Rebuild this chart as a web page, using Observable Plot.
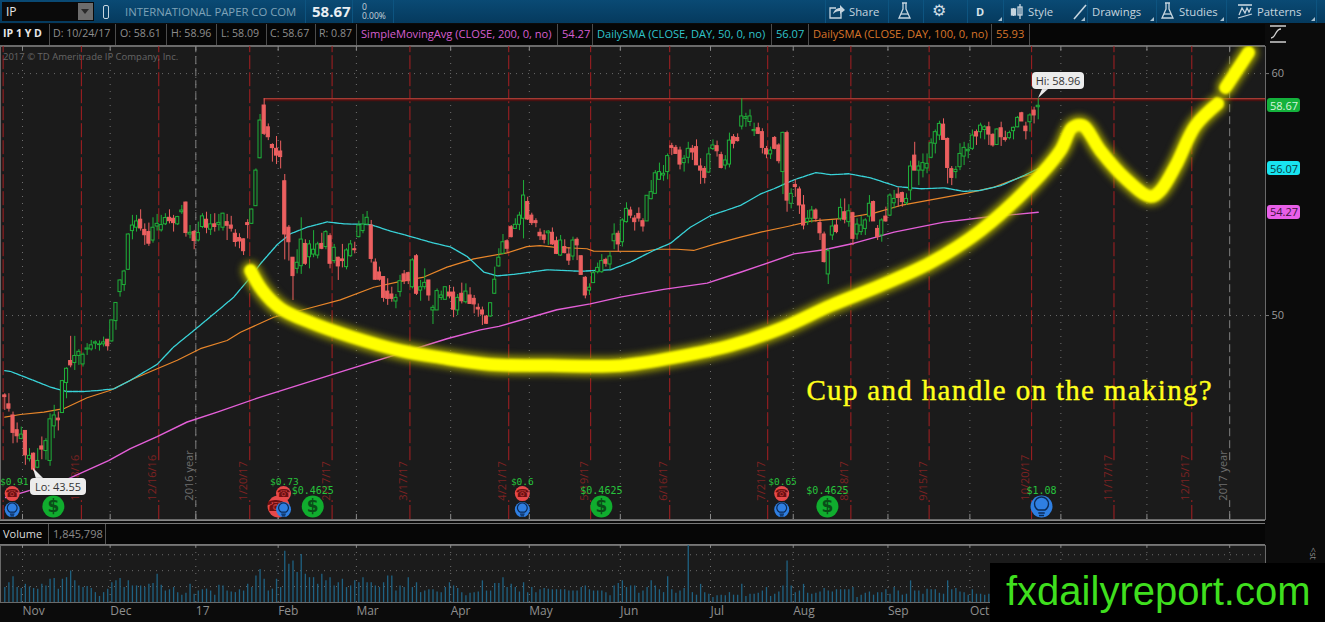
<!DOCTYPE html>
<html><head><meta charset="utf-8">
<style>
html,body{margin:0;padding:0;background:#0b0b0b;overflow:hidden}
#page{position:relative;width:1325px;height:622px;overflow:hidden;background:#0b0b0b;font-family:"Open Sans",sans-serif}
#page>svg{position:absolute;left:0;background:transparent;max-width:none}
.h{position:absolute;white-space:nowrap;line-height:1}
.b{position:absolute}
</style>
<script src="https://cdn.jsdelivr.net/npm/d3@7"></script>
<script src="https://cdn.jsdelivr.net/npm/@observablehq/plot@0.6"></script>
</head><body><div id="page"></div>
<script>
const opens=[46.70,46.33,45.87,45.26,44.90,45.23,44.06,44.29,43.71,44.59,
44.40,43.99,45.42,45.74,45.97,47.21,48.12,48.04,48.33,47.98,
48.59,48.60,48.84,48.78,48.81,49.00,48.93,49.77,50.97,51.26,
51.89,53.49,53.63,53.96,53.54,53.45,53.10,53.68,53.52,53.77,
54.04,54.00,53.77,54.27,54.67,53.35,53.45,53.10,53.66,53.96,
53.55,53.77,53.75,53.63,53.86,53.72,53.38,53.20,53.15,53.82,
53.79,54.52,56.50,58.68,57.78,57.05,56.89,56.78,55.55,53.63,
52.39,51.93,52.04,52.96,52.41,52.52,52.48,52.96,52.83,53.28,
52.25,52.39,52.32,52.00,52.45,52.74,53.24,53.49,53.76,53.72,
52.19,51.78,51.59,50.99,50.87,50.58,50.97,51.70,51.75,51.17,
52.45,51.03,51.17,51.45,50.21,50.21,50.73,50.65,50.95,50.95,
50.21,50.90,50.55,50.83,50.69,50.32,50.21,49.96,49.96,50.90,
52.03,52.55,53.07,53.65,53.58,53.75,54.00,54.69,54.13,53.90,
53.42,53.31,53.40,53.42,53.07,52.48,52.83,52.52,52.44,53.13,
52.45,51.56,51.03,51.34,51.79,51.79,52.30,52.11,53.07,53.38,
53.03,53.86,54.34,54.01,54.20,53.90,53.89,54.81,55.03,55.61,
55.79,55.93,57.00,56.93,56.82,56.30,56.52,56.89,56.96,56.16,
56.06,55.91,56.88,57.00,56.63,56.20,56.24,57.37,57.34,57.81,
58.13,58.00,57.62,57.74,57.58,56.88,56.66,57.34,57.03,55.93,
57.54,54.62,55.40,55.21,54.55,53.86,54.00,54.34,53.82,53.35,
51.70,53.31,53.72,54.00,54.27,53.86,54.23,53.35,53.45,53.58,
54.09,54.69,53.58,53.31,54.09,54.13,54.64,55.00,55.06,54.64,
55.17,56.61,55.99,55.99,56.08,56.52,57.10,57.44,57.89,57.30,
56.05,55.93,56.13,56.57,56.79,56.89,57.58,57.58,57.67,57.78,
57.47,57.05,57.74,57.33,57.33,57.62,57.78,58.36,57.81,57.99,58.47,58.61];
const closes=[46.63,46.15,45.15,45.01,45.08,44.22,44.20,43.63,43.99,44.46,
44.81,45.71,45.87,45.67,47.29,47.80,47.94,48.33,48.50,48.38,
48.64,48.77,48.89,48.81,48.89,48.73,49.80,50.52,51.45,51.82,
53.35,53.72,53.89,53.60,53.32,52.97,53.63,53.79,53.74,54.03,
53.90,53.82,54.07,54.34,53.41,53.42,53.08,53.41,54.10,53.63,
53.77,53.66,53.83,54.21,53.71,53.59,53.04,53.06,52.66,53.74,
54.38,55.99,58.06,57.51,57.37,56.92,56.61,56.55,53.35,53.03,
51.63,52.18,53.14,52.14,52.94,52.72,52.94,52.76,53.45,52.14,
52.80,52.03,52.25,52.69,52.94,52.70,53.72,53.76,54.04,52.34,
51.48,51.48,50.73,50.69,50.69,50.73,51.42,51.42,51.42,52.28,
50.90,51.17,51.35,50.83,50.32,51.01,50.83,51.17,50.79,50.24,
50.73,50.59,50.99,50.48,50.46,50.25,50.04,49.66,50.51,51.48,
52.39,53.03,52.76,53.24,53.75,54.13,54.96,53.97,53.82,53.82,
53.28,53.13,53.47,52.94,52.55,53.10,52.58,52.27,53.10,52.90,
51.68,50.83,51.15,51.75,51.97,52.25,52.14,52.44,53.35,52.94,
53.93,54.41,54.13,53.86,54.01,53.68,54.95,55.10,55.88,55.93,
55.86,56.59,56.93,56.68,56.24,56.48,56.89,56.74,56.21,55.99,
55.69,56.66,57.03,56.79,56.10,56.41,57.23,57.10,57.21,58.23,
58.20,58.23,57.67,57.51,56.93,56.66,56.82,56.89,56.38,57.55,
54.75,55.03,55.31,54.55,53.72,54.00,54.34,54.00,53.40,52.21,
52.66,53.68,53.45,54.45,53.96,54.31,53.17,53.76,53.72,53.93,
54.62,53.89,53.24,53.93,53.89,54.96,54.82,54.86,54.69,54.82,
56.16,55.99,56.16,56.30,56.27,57.12,57.58,57.92,57.26,56.10,
55.69,56.02,56.68,56.93,56.85,57.44,57.40,57.85,57.78,57.48,
57.03,57.69,57.37,57.26,57.54,57.76,58.17,58.02,57.62,58.27,58.27,58.67];
const highs=[46.77,46.77,46.01,45.56,45.39,45.23,44.50,44.32,44.50,44.98,
44.91,45.94,46.29,46.01,47.32,47.84,49.14,49.14,48.59,48.45,
48.84,48.97,48.95,48.95,49.11,49.01,49.80,50.52,51.48,51.87,
53.38,54.14,54.14,54.37,53.79,53.82,54.04,54.18,54.14,54.21,
54.37,54.14,54.10,54.55,54.69,53.72,53.52,53.86,54.21,54.27,
54.18,54.21,54.18,54.23,54.18,54.10,53.55,53.38,53.17,53.96,
54.41,56.06,58.31,58.96,57.92,57.10,57.40,57.21,55.83,53.72,
52.40,52.72,54.04,53.13,53.10,53.51,53.03,53.40,53.51,53.38,
52.94,52.41,52.94,52.76,53.10,53.03,53.90,54.18,54.30,53.93,
52.34,52.00,51.61,51.52,51.17,50.87,51.66,51.86,51.79,52.35,
52.52,51.45,51.93,51.45,50.42,51.10,51.01,51.17,51.24,51.17,
50.87,51.34,51.31,51.15,50.83,50.48,50.35,50.00,50.51,52.00,
52.76,53.35,53.13,53.72,54.00,54.27,55.58,54.89,54.23,54.00,
53.58,53.51,53.51,53.62,53.24,53.31,53.13,52.80,53.24,53.21,
52.47,51.61,51.31,51.83,52.17,52.52,52.37,52.62,53.79,53.49,
54.00,54.66,54.48,54.13,54.45,54.00,54.96,55.58,55.99,56.30,
56.20,56.68,57.12,57.03,56.96,56.61,57.16,57.03,57.26,56.48,
56.16,56.93,57.26,57.21,56.75,56.61,57.54,57.48,57.51,58.96,
58.36,58.50,57.95,57.95,57.72,56.99,56.96,57.40,57.10,57.58,
57.62,55.24,55.61,55.31,54.96,54.34,54.51,54.41,54.00,53.45,
52.76,53.93,53.96,54.82,54.82,54.58,54.27,54.00,54.09,54.00,
54.96,54.73,53.72,54.00,54.48,55.03,55.17,55.28,55.10,55.03,
56.38,57.16,56.38,56.68,56.68,57.30,57.67,58.03,58.13,57.34,
56.16,56.16,57.10,57.16,57.10,57.67,57.67,57.95,57.85,57.99,
57.51,57.72,57.99,57.62,57.62,57.79,58.23,58.40,57.99,58.34,58.61,58.96];
const lows=[46.08,46.01,44.70,44.73,44.87,43.81,43.95,43.55,43.67,44.04,
44.02,43.77,44.91,45.23,45.97,46.56,47.84,47.73,47.94,47.87,
48.35,48.53,48.59,48.53,48.70,48.53,48.90,49.39,50.76,51.00,
51.87,53.13,53.45,53.49,52.90,52.86,52.99,53.49,53.45,53.72,
53.79,53.45,53.72,54.18,53.24,53.17,52.72,53.04,53.59,53.38,
53.31,53.45,53.49,53.49,53.10,53.45,52.83,52.76,52.48,53.17,
53.77,54.51,56.48,57.44,57.23,56.34,56.24,56.06,52.30,52.25,
50.62,51.72,51.70,52.07,51.93,52.39,52.34,52.72,52.72,51.93,
52.14,51.45,51.97,51.89,52.41,52.55,53.21,53.38,53.72,52.17,
51.45,51.42,50.55,50.42,50.55,50.28,50.76,51.28,51.28,51.10,
50.83,50.59,51.06,50.59,49.63,50.21,50.62,50.65,50.69,49.91,
50.00,50.48,50.48,50.48,50.07,49.93,49.59,49.63,49.93,50.87,
52.00,52.55,52.58,53.21,53.58,53.51,53.17,53.93,53.72,53.63,
53.10,52.96,52.90,52.90,52.52,52.44,52.55,52.07,52.27,52.27,
51.68,50.69,50.83,51.34,51.72,51.75,52.00,51.90,52.72,52.62,
52.83,53.82,54.00,53.49,53.86,53.45,53.89,54.78,55.03,55.58,
55.55,55.61,56.61,56.66,56.02,55.93,56.27,56.41,56.20,55.42,
55.44,55.88,56.82,56.55,56.06,56.02,56.10,56.89,57.17,57.67,
57.78,57.81,57.40,57.48,56.68,56.48,56.45,56.85,56.27,55.00,
54.27,54.41,54.89,54.18,53.54,53.72,53.82,53.86,53.10,52.17,
51.28,53.10,53.38,53.90,53.79,53.65,52.89,53.13,53.31,53.31,
53.86,53.89,53.10,53.03,53.86,54.09,54.41,54.48,54.48,54.55,
54.75,55.99,55.37,55.69,55.86,56.48,56.68,57.23,57.26,55.44,
55.37,55.65,55.99,56.20,56.48,56.82,57.03,57.30,57.26,57.03,
56.96,57.03,56.99,57.17,57.26,57.26,57.76,58.02,57.26,57.58,57.92,58.09];
const volumes=[4.7,6.2,8.1,4.7,4.4,5.7,4.9,4.4,4.2,5.7,
5.2,7.3,7.5,4.2,7.3,7.8,9.9,6.8,5.2,4.7,
5.0,4.4,3.1,1.9,3.1,4.2,6.2,6.8,7.5,4.7,
6.8,5.2,5.2,5.2,4.7,5.7,6.0,8.9,5.4,3.6,
4.0,4.7,3.1,2.3,2.9,5.7,2.6,3.6,4.0,4.2,
3.6,2.3,5.4,5.2,3.6,3.3,3.1,4.0,3.6,5.7,
4.7,8.3,10.4,7.3,3.6,4.2,7.3,4.7,16.1,12.0,
13.0,9.4,15.1,8.9,7.8,7.8,5.7,8.9,6.8,7.8,
5.2,6.2,7.3,4.7,5.2,6.8,6.2,7.8,6.2,6.2,
5.2,4.7,6.2,8.3,8.3,3.6,5.2,4.7,7.8,4.7,
6.2,3.1,3.6,4.0,4.0,3.3,3.1,
4.7,6.2,5.2,4.4,3.1,2.1,2.9,3.1,3.3,6.8,
3.6,3.6,6.0,6.0,7.8,4.7,5.7,4.7,3.3,6.2,
3.1,4.7,3.1,4.0,4.4,4.2,4.0,4.0,4.0,4.0,
3.6,3.6,3.6,4.7,5.2,4.0,3.6,3.6,3.6,3.1,
2.1,5.2,6.0,6.8,4.7,5.2,5.2,2.9,3.6,4.7,
6.8,5.2,4.0,3.1,8.1,4.0,2.9,3.6,4.4,17.9,
3.1,2.3,5.7,3.1,2.6,1.6,2.1,2.3,2.1,3.1,
2.3,2.3,5.7,1.9,2.6,2.6,2.9,3.6,4.7,1.9,
2.6,3.3,5.2,13.0,5.2,3.1,3.6,5.7,2.9,2.6,
2.9,3.3,4.4,3.6,3.3,4.0,4.0,4.0,4.0,4.7,
1.6,2.3,2.9,3.3,2.3,3.1,
3.1,4.0,2.6,4.7,3.6,2.3,2.6,6.8,3.6,3.6,2.6,4.2,4.0,4.0,2.9,2.6,6.8,4.0,4.4,3.3,3.1,2.3,4.0,2.6,2.6,2.3,2.6,
3.1,2.9,3.1,2.6,2.9,3.1,2.6,2.9,3.1,3.3,3.6,1.85];

const sma50=[[0,47.72],[1.4,47.69],[3.8,47.53],[7,47.32],[11.1,47.04],[15.1,46.86],[19.2,46.86],[22.4,46.90],[26.5,46.97],[30.5,47.32],[33.8,47.66],[37,47.98],[41,48.70],[45.9,49.38],[50.8,50.07],[55.6,50.76],[59.7,51.59],[62.1,52.14],[66.2,52.94],[69.4,53.38],[73.4,53.65],[78.3,53.87],[82.4,53.79],[88.8,53.76],[93.7,53.49],[98.5,53.27],[103.4,53.03],[108.3,52.83],[112.3,52.44],[116.4,51.79],[119.6,51.64],[123.6,51.70],[131.7,51.89],[139.8,51.83],[147.1,51.89],[152,52.21],[157.6,52.69],[161.7,52.99],[166.5,53.65],[171.4,54.13],[178.7,54.55],[183.6,55.03],[186.8,55.24],[191.7,55.61],[197,55.91],[200.6,55.82],[205,55.86],[210.3,55.69],[216.8,55.33],[222.5,55.24],[228.1,55.28],[233,55.13],[237,55.17],[241.9,55.37],[247.6,55.79],[251,56.07]];
const sma100=[[0,45.80],[3.8,45.91],[9.5,46.01],[14.3,46.15],[20,46.60],[25.7,46.91],[31.3,47.39],[37,47.80],[41.9,48.15],[47.5,48.63],[54,48.97],[57.25,49.31],[65.3,49.93],[73.4,50.28],[81.5,50.65],[89.6,51.17],[95.3,51.38],[101.8,51.59],[107.4,52.0],[113.9,52.34],[122,52.59],[126.8,52.85],[130,52.89],[133.3,52.83],[141.4,52.76],[143,52.66],[155.2,52.65],[158.4,52.74],[163.3,52.74],[167.3,52.69],[172.2,52.94],[178.7,53.24],[183.6,53.45],[190.1,53.68],[195.7,53.90],[203.8,54.02],[211.1,54.23],[217.6,54.55],[224.9,54.78],[233.8,55.06],[240.3,55.31],[246.8,55.72],[251,55.93]];
const sma200=[[0.2,42.48],[4.5,42.69],[15.5,43.26],[25.2,44.0],[30.5,44.50],[37,45.0],[44.3,45.60],[51.6,46.01],[62.1,46.63],[81,47.64],[107.4,49.04],[115.5,49.41],[120,49.55],[134.1,50.24],[142.2,50.48],[149.5,50.76],[160,51.08],[170.6,51.34],[178.7,51.79],[183.6,52.07],[191.7,52.55],[199,52.72],[206.3,52.99],[216,53.45],[228.1,53.86],[238.7,54.07],[251,54.27]];
const cupStroke=[[59.7,51.86],[62.6,51.03],[67,50.29],[74.3,49.71],[84,49.13],[96.1,48.55],[105.8,48.26],[117.9,47.98],[132.5,47.93],[149.5,47.93],[164.1,48.31],[176.3,48.76],[188.4,49.46],[200.6,50.41],[212.7,51.24],[224.9,52.19],[237,53.51],[249.1,55.37],[256.4,56.82],[259.3,57.77],[261.8,57.85],[266.1,56.82],[272.2,55.66],[278.3,54.92],[280.7,55.17],[284.4,56.2],[289.2,57.85],[294.6,58.76]];
const handleStroke=[[296.5,59.42],[302.1,60.87]];

const monthTicks=[4.3,25.6,46.4,66.4,85.4,108.3,127.4,149.5,171.4,191.5,214.5,234.4];
const monthLabels=["Nov","Dec","17","Feb","Mar","Apr","May","Jun","Jul","Aug","Sep","Oct"];
const futureTicks=[256.5,277.4];
const expiryPos=[-0.4,18.6,37.4,59.5,79.5,98.4,122.4,142.3,161.5,185.3,205.5,224.5,249.4,269.4,288.3];
const expiryLabels=["","11/18/16","12/16/16","1/20/17","2/17/17","3/17/17","4/21/17","5/19/17","6/16/17","7/21/17","8/18/17","9/15/17","10/20/17","11/17/17","12/15/17"];
const yearPos=[46.4,297.5];
const yearLabels=["2016 year","2017 year"];
const phoneIdx=[1.8,67.7,125.7,188.7];
const bulbIdx=[1.8,67.7,125.7,188.7];
const dollarIdx=[11.8,74.8,144.9,199.8];
const bigPhoneIdx=[66.5];
const bigBulbIdx=[251.8];
const eventAmounts=[[2.3,"$0.91"],[67.9,"$0.73"],[125.7,"$0.6"],[188.9,"$0.65"]];
const dividendAmounts=[[74.8,"$0.4625"],[144.9,"$0.4625"],[199.8,"$0.4625"],[251.8,"$1.08"]];

const idx=d3.range(opens.length);
const GREEN="#1fb13a",RED="#ec6060";
const isUp=i=>closes[i]>=opens[i];
const xDomain=[-1.04,306.2];
const FONT='"Open Sans",sans-serif';
const w=0.38;
const bulb={draw(c,size){const r=Math.sqrt(size/Math.PI);
 c.moveTo(-r*0.35,r*0.35);c.arc(0,-r*0.25,r*0.7,Math.PI*0.75,Math.PI*0.25);c.lineTo(r*0.35,r*0.35);c.closePath();
 c.moveTo(-r*0.32,r*0.65);c.lineTo(r*0.32,r*0.65);c.moveTo(-r*0.25,r*0.9);c.lineTo(r*0.25,r*0.9);}};
const yAtRow={phone:42.64,bulb:41.98,coin:42.11,amt1:43.14,amt2:42.77};
const TOP=61.12,BOT=41.57,GAPT=44.0,GAPB=42.35;
const CUP="Cup and handle on the making?";
const allTicks=monthTicks.concat(futureTicks,[297.5]);

const main=Plot.plot({
 width:1325,height:520,marginLeft:0,marginRight:60,marginTop:46,marginBottom:1,
 style:{background:"transparent",fontFamily:FONT},
 x:{type:"linear",domain:xDomain,axis:null},
 y:{domain:[BOT,TOP],axis:null},
 marks:[
  Plot.frame({fill:"#1b1b1b",stroke:"#6a6a6a"}),
  Plot.ruleY([50,60],{stroke:"#6b6b6b",strokeDasharray:"1 5"}),
  Plot.axisY([50,60],{anchor:"right",tickSize:3,tickPadding:3,stroke:"#777",fill:"#9a9a9a",fontSize:11,label:null,tickFormat:d=>d}),
  Plot.ruleX(monthTicks.concat(futureTicks),{stroke:"#707070",strokeDasharray:"1 6",y1:BOT,y2:TOP}),
  Plot.ruleX(allTicks,{y1:BOT,y2:41.78,stroke:"#8a8a8a"}),
  Plot.ruleX(allTicks,{y1:60.92,y2:TOP,stroke:"#8a8a8a"}),
  Plot.ruleX(expiryPos,{y1:GAPT,y2:TOP,stroke:"#a81f22",strokeDasharray:"14 3"}),
  Plot.ruleX(expiryPos,{y1:BOT,y2:GAPB,stroke:"#a81f22",strokeDasharray:"14 3"}),
  Plot.text(expiryPos.map((p,i)=>[p,expiryLabels[i]]).filter(d=>d[1]),{x:"0",y:42.35,text:"1",rotate:-90,textAnchor:"start",dx:-6,fill:"#7d2222",fontSize:11}),
  Plot.ruleX(yearPos,{y1:GAPT,y2:TOP,stroke:"#808080",strokeDasharray:"8 4"}),
  Plot.ruleX(yearPos,{y1:BOT,y2:GAPB,stroke:"#808080",strokeDasharray:"8 4"}),
  Plot.text(yearPos.map((p,i)=>[p,yearLabels[i]]),{x:"0",y:42.35,text:"1",rotate:-90,textAnchor:"start",dx:-6,fill:"#6f6f6f",fontSize:11}),
  Plot.ruleY([58.96],{x1:63,x2:xDomain[1],stroke:"#4a1010",strokeWidth:3,dy:1}),
  Plot.ruleY([58.96],{x1:63,x2:xDomain[1],stroke:"#c9493f",strokeWidth:1}),
  Plot.line(sma200,{x:"0",y:"1",stroke:"#e45fd8",strokeWidth:1.4}),
  Plot.line(sma100,{x:"0",y:"1",stroke:"#e8862a",strokeWidth:1.2}),
  Plot.line(sma50,{x:"0",y:"1",stroke:"#39d3d8",strokeWidth:1.3,strokeDasharray:"5 1"}),
  Plot.ruleX(idx,{x:i=>i,y1:i=>lows[i],y2:i=>highs[i],stroke:i=>isUp(i)?GREEN:RED,strokeWidth:1}),
  Plot.rect(idx,{x1:i=>i-w,x2:i=>i+w,y1:i=>opens[i],y2:i=>closes[i],fill:i=>isUp(i)?"#1b1b1b":RED,stroke:i=>isUp(i)?GREEN:RED,strokeWidth:1}),
  Plot.line(cupStroke,{x:"0",y:"1",stroke:"#a8a800",strokeWidth:18,strokeLinecap:"round",strokeLinejoin:"round",curve:"catmull-rom",imageFilter:"blur(3.5px)"}),
  Plot.line(handleStroke,{x:"0",y:"1",stroke:"#a8a800",strokeWidth:18,strokeLinecap:"round",imageFilter:"blur(3.5px)"}),
  Plot.line(cupStroke,{x:"0",y:"1",stroke:"#ffff00",strokeWidth:12.5,strokeLinecap:"round",strokeLinejoin:"round",curve:"catmull-rom",imageFilter:"blur(1.2px)"}),
  Plot.line(handleStroke,{x:"0",y:"1",stroke:"#ffff00",strokeWidth:12.5,strokeLinecap:"round",imageFilter:"blur(1.2px)"}),
  Plot.text([CUP],{x:194.7,y:46.9,text:d=>d,textAnchor:"start",fill:"#ffff1a",fontFamily:'"Liberation Serif",serif',fontSize:29,stroke:"#ffff1a",strokeWidth:0.4}),
  // earnings & dividend markers
  Plot.text(eventAmounts,{x:"0",y:yAtRow.amt1,text:"1",fill:"#27c43c",fontFamily:'"DejaVu Sans Mono",monospace',fontSize:9.5}),
  Plot.text(dividendAmounts,{x:"0",y:yAtRow.amt2,text:"1",fill:"#27c43c",fontFamily:'"DejaVu Sans Mono",monospace',fontSize:10}),
  Plot.dot(bigPhoneIdx,{x:d=>d,y:yAtRow.coin,r:11,fill:"#e6494a"}),
  Plot.text(bigPhoneIdx,{x:d=>d,y:yAtRow.coin,text:()=>"☎",fill:"#6d0f10",fontFamily:'"DejaVu Sans"',fontSize:15,dx:-3}),
  Plot.dot(phoneIdx,{x:d=>d,y:yAtRow.phone,r:7.5,fill:"#e6494a"}),
  Plot.text(phoneIdx,{x:d=>d,y:yAtRow.phone,text:()=>"☎",fill:"#6d0f10",fontFamily:'"DejaVu Sans"',fontSize:11}),
  Plot.dot(bulbIdx,{x:d=>d,y:yAtRow.bulb,r:7.5,fill:"#2f7fe2"}),
  Plot.dot(bulbIdx,{x:d=>d,y:yAtRow.bulb,r:7,symbol:bulb,stroke:"#0b2a55",strokeWidth:1.2,fill:"none"}),
  Plot.dot(dollarIdx,{x:d=>d,y:yAtRow.coin,r:11,fill:"#10ad2e"}),
  Plot.text(dollarIdx,{x:d=>d,y:yAtRow.coin,text:()=>"$",fill:"#0a4d18",fontFamily:'"DejaVu Sans"',fontWeight:"bold",fontSize:17}),
  Plot.dot(bigBulbIdx,{x:d=>d,y:yAtRow.coin,r:11,fill:"#2f7fe2"}),
  Plot.dot(bigBulbIdx,{x:d=>d,y:yAtRow.coin,r:10,symbol:bulb,stroke:"#0b2a55",strokeWidth:1.4,fill:"none"})
 ]});
main.style.top="0px";
const page=document.getElementById("page");
page.appendChild(main);
main.querySelectorAll("text").forEach(t=>{if(t.textContent===CUP)t.style.letterSpacing="1.33px";});

const vol=Plot.plot({
 width:1325,height:78,marginLeft:0,marginRight:60,marginTop:1,marginBottom:20,
 style:{background:"transparent",fontFamily:FONT},
 x:{type:"linear",domain:xDomain,axis:null},
 y:{domain:[0,17.9],axis:null},
 marks:[
  Plot.frame({fill:"#1b1b1b",stroke:"#6a6a6a"}),
  Plot.ruleY([5,10,15],{stroke:"#6b6b6b",strokeDasharray:"1 5"}),
  Plot.ruleX(allTicks,{stroke:"#707070",strokeDasharray:"1 6",y1:0,y2:17.9}),
  Plot.ruleX(allTicks,{stroke:"#8a8a8a",y1:17,y2:17.9}),
  Plot.ruleX(volumes,{x:(d,i)=>i,y:d=>d,stroke:"#1f6283",strokeWidth:1.3}),
  Plot.axisX(monthTicks,{anchor:"bottom",tickSize:0,tickPadding:4,textAnchor:"start",fill:"#8f8f8f",fontSize:12,label:null,tickFormat:d=>monthLabels[monthTicks.indexOf(d)]})
 ]});
vol.style.top="544px";
page.appendChild(vol);

function box(x,y,w,h,css){const d=document.createElement("div");d.className="b";d.style.cssText+=`left:${x}px;top:${y}px;width:${w}px;height:${h}px;${css||""}`;page.appendChild(d);return d;}
function lab(t,x,y,size,color,css){const d=document.createElement("div");d.className="h";d.textContent=t;d.style.cssText+=`left:${x}px;top:${y}px;font-size:${size}px;color:${color};${css||""}`;page.appendChild(d);return d;}
function icon(x,y,w,h,inner){const d=document.createElement("div");d.className="b";d.style.cssText+=`left:${x}px;top:${y}px;width:${w}px;height:${h}px`;
 d.innerHTML=`<svg width="${w}" height="${h}" viewBox="0 0 ${w} ${h}" fill="none" stroke="#c6d5df" stroke-width="1.3" xmlns="http://www.w3.org/2000/svg">${inner}</svg>`;page.appendChild(d);return d;}

// toolbar
box(0,0,1325,23,"background:linear-gradient(#0a4a74,#053a5e)");
box(2,2,92,19,"background:#0a0a0a");box(78,3,15,17,"background:#6d6d6d");
lab("IP",6,6,12,"#e8e8e8");
box(81,9,0,0,"border-left:4.5px solid transparent;border-right:4.5px solid transparent;border-top:5px solid #2a2a2a");
box(103,5,4,12,"border:1px solid #c6d5df;border-radius:2px");
lab("INTERNATIONAL PAPER CO COM",125,6,11.3,"#7fa3b8");
lab("58.67",312,4,15,"#e9eef2","font-weight:700");
lab("0",362,3,8.5,"#c8d4dc");lab("0.00%",362,12,8.5,"#c8d4dc");
[305,352,393,825,888,923,967,1003,1087,1156,1226,1316].forEach(x=>box(x,0,1,23,"background:#0d5480"));
[["Share",849],["Style",1028],["Drawings",1092],["Studies",1179],["Patterns",1257]].forEach(([t,x])=>lab(t,x,6,11.3,"#c6d5df"));
lab("D",976,6,11,"#d7e2e9","font-weight:700");
const flask='<path d="M5 1h5M6 1v6L2 16h11L9 7V1" /><path d="M4 12h7" />';
icon(829,3,16,17,'<path d="M12 10v5H1V5h6" /><path d="M4 11c1-4 4-6 7-6V2l5 5-5 4V8c-3 0-5 1-7 3z" fill="#c6d5df" stroke="none"/>');
icon(897,2,15,18,flask);
icon(1160,2,15,18,flask);
lab("⚙",932,2,16,"#d0dde5");
icon(1010,3,14,17,'<path d="M3.5 5v8M10 1v15" /><rect x="1.5" y="6" width="4" height="6" fill="#c6d5df"/><rect x="8" y="4" width="4" height="8"/>');
icon(1073,3,15,17,'<path d="M1 16L13 2" stroke-width="1.6"/>');
icon(1237,3,16,17,'<path d="M1 2h14" stroke-width="1.6"/><path d="M2 12l3-7 3 5 2-5 2 4 2-4" /><path d="M1 15l14-4" />');
[[1002,21],[1085,21],[1154,21],[1224,21],[1315,21]].forEach(([x,y])=>box(x-4,y-4,0,0,"border-left:4px solid transparent;border-bottom:4px solid #a9c0cf"));

// study strip
box(0,24,1265,21,"background:#060606;border-bottom:1px solid #6a6a6a");
const cells=[["IP 1 Y D",3,"#e8e8e8","font-weight:700"],["D: 10/24/17",53,"#8e8e8e"],["O: 58.61",120,"#8e8e8e"],["H: 58.96",171,"#8e8e8e"],["L: 58.09",221,"#8e8e8e"],["C: 58.67",270,"#8e8e8e"],["R: 0.87",319,"#8e8e8e"]];
cells.forEach(c=>lab(c[0],c[1],28,10.6,c[2],c[3]||""));
[["SimpleMovingAvg (CLOSE, 200, 0, no)",361,"#d65fd0"],["54.27",562,"#d65fd0"],["DailySMA (CLOSE, DAY, 50, 0, no)",597,"#2fc4ca"],["56.07",776,"#2fc4ca"],["DailySMA (CLOSE, DAY, 100, 0, no)",813,"#d8752a"],["55.93",996,"#d8752a"]].forEach(c=>lab(c[0],c[1],28,11.1,c[2]));
[49,115,166,216,266,315,356,557,592,771,808,991,1029].forEach(x=>box(x,24,1,21,"background:#4c4c4c"));
lab("2017 © TD Ameritrade IP Company, Inc.",3,52,9.5,"#666");

// scale-bound tags
[[58.67,"58.67","#14b23c","#d6f5dc"],[56.07,"56.07","#18e4f0","#0a3b40"],[54.27,"54.27","#e85fe8","#3c123c"]].forEach(([p,t,bg,fg])=>{
 const y=main.scale("y").apply(p);
 lab(t,1267,y-7,11,fg,`background:${bg};padding:1.5px 3px;border-radius:3px;width:27px;text-align:center;height:11px`);
});
const callout=(t,x,y,w)=>lab(t,x,y,11,"#333",`background:#ececec;border-radius:4px;padding:3px 0;width:${w}px;text-align:center;box-shadow:0 0 1px #000`);
icon(0,0,1325,622,'<path d="M1038 98 L1042 89 L1048 89 Z" fill="#ececec" stroke="none"/><path d="M33 468 L36 479 L44 479 Z" fill="#ececec" stroke="none"/>');
callout("Hi: 58.96",1032,72,52);
callout("Lo: 43.55",30,478,56);
// mode icon
icon(1268,25,20,18,'<path d="M2 1h16M2 17h16" stroke="#cfcfcf" stroke-width="1.4"/><path d="M3 13c5 0 4-9 10-9" stroke="#cfcfcf"/>');

// volume strip
box(0,520,1265,1,"background:#888");
box(0,523,1265,20,"background:#060606;border-top:1px solid #777;border-bottom:1px solid #777");
lab("Volume",3,528,11,"#dcdcdc");
lab("1,845,798",53,528,11,"#8a8a8a");
box(48,524,1,20,"background:#555");box(105,524,1,20,"background:#555");
lab("<st",1307,549,9,"#888","transform:rotate(90deg)");

// logo
box(990,563,335,59,"background:#000");
lab("fxdailyreport.com",1006,571,40,"#3fdf1e",'font-family:"Liberation Sans",Arial,sans-serif');
</script></body></html>
